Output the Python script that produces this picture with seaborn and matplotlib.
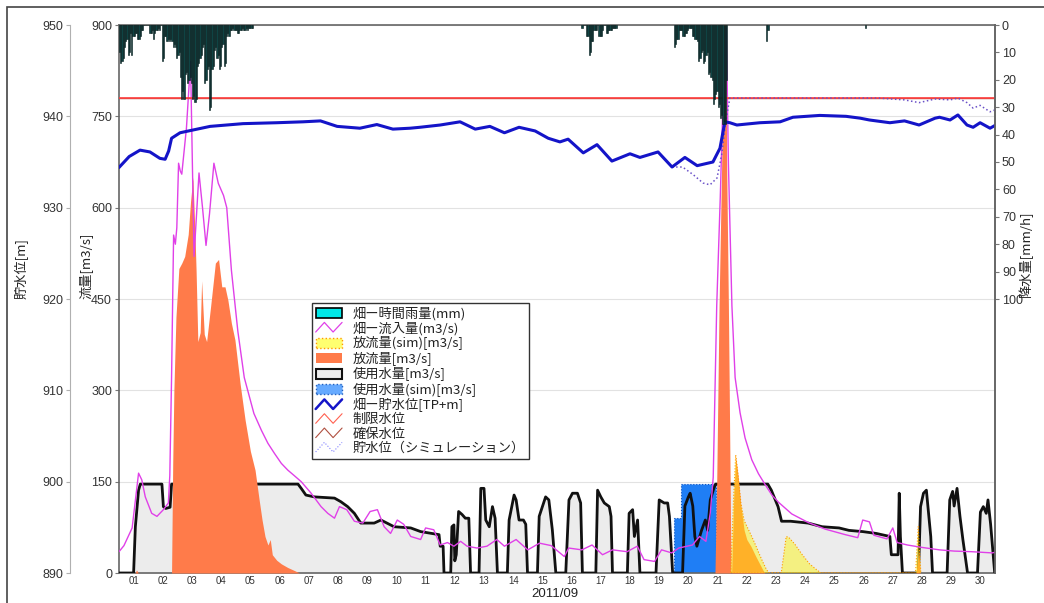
import numpy as np
import matplotlib
matplotlib.use("Agg")
import matplotlib.pyplot as plt
import seaborn as sns
from matplotlib import font_manager
from matplotlib.patches import Patch, Rectangle
from matplotlib.lines import Line2D
from matplotlib.legend_handler import HandlerBase
from matplotlib.font_manager import FontProperties

# ---- data (x in days from 2011/09/01 00:00) ----
day_labels = ["%02d" % d for d in range(1, 31)]

# hourly rainfall [mm/h], one list per rainy spell, with the hour it starts at
rain1_start = 0
rain1_mm = [10, 14, 13, 12, 8, 6, 5, 11, 10, 3, 11, 4, 4, 3, 3, 5, 5, 4, 2, 2,
            0, 0, 0, 0, 0, 3, 3, 2, 5, 3, 2, 2, 1, 2, 0, 13, 12, 4, 4, 6,
            5, 6, 5, 6, 8, 7, 8, 12, 11, 10, 19, 27, 24, 27, 18, 17, 21, 20, 19, 21,
            27, 26, 28, 27, 15, 14, 12, 11, 8, 7, 21, 20, 16, 15, 31, 30, 16, 15, 9, 8,
            12, 11, 16, 15, 8, 7, 15, 14, 4, 3, 4, 2, 2, 1, 2, 2, 2, 3, 3, 2,
            2, 1, 2, 2, 1, 2, 1, 1, 1, 1]
rain2_start = 380
rain2_mm = [1, 0, 0, 0, 4, 4, 11, 10, 6, 6, 2, 2, 2, 0, 4, 4, 4, 2, 0, 0,
            3, 3, 2, 2, 2, 1, 1, 1, 1]
rain3_start = 456
rain3_mm = [8, 7, 5, 5, 2, 2, 2, 4, 4, 3, 3, 2, 1, 1, 1, 4, 4, 5, 5, 6,
            13, 12, 10, 9, 14, 13, 11, 10, 18, 17, 19, 20, 29, 27, 25, 24, 30, 29, 34, 33,
            36, 35, 36, 20]
rain4_start = 532
rain4_mm = [6, 2]
rain5_start = 613
rain5_mm = [1]

# inflow [m3/s]
inflow_day = [0.0, 0.17, 0.45, 0.67, 0.78, 0.9, 1.12, 1.3, 1.52, 1.69, 1.74, 1.8, 1.87, 1.93,
              1.98, 2.04, 2.1, 2.15, 2.31, 2.45, 2.57, 2.74, 2.86, 2.98, 3.1, 3.25, 3.4, 3.58,
              3.69, 3.85, 4.07, 4.29, 4.62, 4.88, 5.1, 5.33, 5.56, 5.78, 6.0, 6.24, 6.58, 6.92,
              7.15, 7.38, 7.55, 7.8, 8.06, 8.35, 8.6, 8.85, 9.08, 9.3, 9.53, 9.75, 9.99, 10.33,
              10.5, 10.78, 11.0, 11.25, 11.47, 11.7, 11.92, 12.26, 12.6, 12.94, 13.2, 13.6, 14.0,
              14.4, 14.8, 15.25, 15.4, 15.85, 16.2, 16.56, 16.9, 17.4, 17.75, 17.98, 18.34, 18.58,
              18.93, 19.17, 19.64, 19.88, 20.1, 20.25, 20.35, 20.47, 20.59, 20.7, 20.8, 20.87,
              20.99, 21.1, 21.27, 21.44, 21.67, 21.9, 22.13, 22.36, 22.59, 23.04, 23.6, 24.19,
              24.87, 25.3, 25.47, 25.7, 25.85, 26.3, 26.5, 26.65, 27.0, 27.5, 28.1, 28.6, 29.2,
              29.9, 30.0]
inflow_m3s = [35, 45, 74, 164, 153, 125, 98, 93, 104, 115, 160, 321, 555, 540,
              567, 673, 660, 655, 731, 840, 520, 657, 600, 538, 590, 673, 640, 620,
              600, 497, 397, 321, 262, 234, 213, 196, 180, 169, 160, 150, 131, 109,
              98, 90, 109, 104, 85, 82, 101, 104, 76, 65, 87, 80, 60, 55,
              74, 71, 46, 50, 44, 52, 44, 41, 44, 55, 44, 55, 38,
              49, 45, 27, 41, 38, 46, 30, 38, 35, 44, 22, 19, 38,
              33, 41, 46, 60, 52, 99, 157, 439, 615, 800, 895, 673,
              439, 321, 263, 222, 186, 163, 145, 128, 116, 97, 83, 72,
              63, 58, 87, 84, 62, 56, 74, 50, 46, 42, 38, 36, 35,
              33, 34]

# release [m3/s]
release_day = [0.0, 0.55, 0.6, 0.66, 1.8, 1.84, 1.88, 1.95, 2.05, 2.15, 2.25, 2.37, 2.45, 2.53,
               2.6, 2.64, 2.7, 2.78, 2.83, 2.88, 2.92, 3.0, 3.14, 3.3, 3.41, 3.52, 3.63, 3.73,
               3.85, 3.97, 4.15, 4.32, 4.5, 4.66, 4.8, 4.9, 5.0, 5.1, 5.18, 5.25, 5.4, 5.56,
               5.78, 6.01, 6.18, 20.41, 20.47, 20.55, 20.64, 20.72, 20.78, 20.81, 20.87, 20.93,
               20.96, 20.98, 21.05, 21.12, 21.2, 21.3, 21.41, 21.5, 21.64, 21.8, 21.93, 22.05,
               22.12, 27.3, 27.38, 27.44, 30.0]
release_m3s = [0, 0, 5, 0, 0, 180, 300, 420, 500, 509, 520, 556, 610, 650,
               560, 497, 380, 395, 480, 430, 392, 380, 439, 509, 515, 470, 470, 448,
               410, 383, 310, 251, 200, 169, 120, 87, 60, 46, 55, 30, 21, 15,
               9, 4, 0, 0, 150, 439, 673, 960, 960, 673, 439, 150,
               0, 0, 120, 191, 160, 109, 70, 55, 44, 28, 16, 5,
               0, 0, 40, 0, 0]

# simulated release [m3/s]
sim_release_day = [20.95, 21.05, 21.12, 21.2, 21.3, 21.41, 21.5, 21.64, 21.8, 21.93, 22.05,
                   22.15, 22.25, 22.68, 22.85, 22.95, 23.15, 23.4, 23.65, 23.9, 24.05, 27.28,
                   27.37, 27.46]
sim_release_m3s = [0, 125, 194, 162, 114, 86, 77, 63, 46, 31, 18,
                   8, 0, 0, 60, 58, 47, 30, 15, 5, 0, 0,
                   76, 0]

# water use [m3/s]
use_day = [0.0, 0.5, 0.56, 0.67, 0.73, 1.47, 1.52, 1.6, 1.75, 1.8, 6.13, 6.24, 6.4, 6.69,
           7.38, 7.6, 7.83, 8.06, 8.28, 8.74, 8.97, 9.42, 9.99, 10.33, 10.96, 11.0, 11.1, 11.13,
           11.36, 11.4, 11.47, 11.5, 11.55, 11.63, 11.75, 11.86, 11.98, 12.04, 12.33, 12.39,
           12.5, 12.56, 12.68, 12.79, 12.88, 12.96, 13.3, 13.36, 13.53, 13.6, 13.7, 13.85,
           13.93, 13.99, 14.33, 14.39, 14.5, 14.61, 14.72, 14.84, 14.96, 15.3, 15.41, 15.53,
           15.7, 15.81, 15.87, 16.33, 16.39, 16.5, 16.62, 16.79, 16.85, 16.9, 17.41, 17.47,
           17.59, 17.65, 17.76, 17.84, 18.39, 18.5, 18.67, 18.79, 18.85, 18.96, 19.3, 19.38,
           19.5, 19.56, 19.65, 19.72, 19.79, 19.95, 20.08, 20.16, 20.25, 20.37, 20.43, 22.22,
           22.34, 22.57, 22.69, 23.0, 23.6, 24.08, 24.66, 25.0, 25.47, 25.93, 26.4, 26.45,
           26.68, 26.72, 26.76, 26.83, 27.38, 27.45, 27.55, 27.65, 27.72, 27.8, 27.86, 28.36,
           28.45, 28.55, 28.6, 28.7, 28.8, 28.9, 29.06, 29.4, 29.5, 29.6, 29.7, 29.76,
           29.85, 29.99, 30.0]
use_m3s = [0, 0, 76, 136, 146, 146, 109, 106, 108, 146, 146, 139, 128, 125,
           123, 117, 109, 98, 82, 82, 87, 76, 74, 68, 63, 44, 44, 0,
           0, 76, 79, 20, 30, 101, 96, 90, 90, 0, 0, 139,
           139, 87, 76, 109, 90, 0, 0, 87, 128, 120, 87, 87,
           80, 0, 0, 93, 109, 125, 120, 71, 0, 0, 120, 131,
           131, 115, 0, 0, 136, 125, 115, 109, 93, 0, 0, 98,
           104, 60, 87, 0, 0, 120, 115, 115, 93, 0, 0, 110,
           125, 131, 110, 60, 44, 70, 87, 70, 120, 139, 146, 146,
           136, 109, 85, 85, 82, 76, 74, 70, 68, 65, 60, 30,
           30, 131, 60, 0, 0, 109, 131, 136, 100, 60, 0, 0,
           120, 134, 110, 139, 93, 55, 0, 0, 100, 109, 98, 120,
           80, 0, 0]

# simulated water use [m3/s]
sim_use_day = [19.0, 19.0, 19.25, 19.25, 20.45, 20.45]
sim_use_m3s = [0, 90, 90, 146, 146, 0]

# reservoir level [TP+m]
level_day = [0.0, 0.35, 0.72, 1.06, 1.4, 1.58, 1.7, 1.8, 2.09, 2.53, 3.12, 4.25, 5.4, 6.3,
             6.9, 7.47, 8.25, 8.83, 9.38, 9.97, 10.3, 11.0, 11.68, 12.2, 12.7, 13.2, 13.7,
             14.25, 14.7, 15.1, 15.38, 15.9, 16.37, 16.88, 17.5, 17.84, 18.46, 18.94, 19.38,
             19.8, 20.34, 20.58, 20.75, 20.92, 21.16, 21.95, 22.64, 23.08, 24.0, 24.9, 25.38,
             25.7, 26.4, 26.9, 27.4, 27.95, 28.1, 28.46, 28.73, 29.04, 29.25, 29.49, 29.83, 30.0]
level_m = [934.4, 935.6, 936.3, 936.1, 935.4, 935.3, 936.2, 937.6, 938.2, 938.5, 938.9, 939.2,
           939.3, 939.4, 939.5, 938.9, 938.7, 939.1, 938.6, 938.7, 938.8, 939.05, 939.4, 938.6,
           938.9, 938.2, 938.8, 938.4, 937.6, 937.2, 937.5, 936.0, 936.9, 935.1, 935.9, 935.5,
           936.1, 934.45, 935.5, 934.6, 935.0, 936.5, 939.4, 939.3, 939.05, 939.3, 939.4, 939.9,
           940.1, 940.0, 939.8, 939.6, 939.3, 939.5, 939.05, 939.8, 939.9, 939.6, 940.15,
           939.05, 938.8, 939.3, 938.7, 939.0]

# simulated level [TP+m]
sim_level_day = [18.94, 19.3, 19.67, 20.0, 20.24, 20.48, 20.64, 20.78, 20.92, 26.0, 26.9,
                 27.4, 27.95, 28.46, 28.73, 29.04, 29.25, 29.49, 29.83, 30.0]
sim_level_m = [934.45, 934.45, 933.6, 932.7, 932.5, 933.25, 935.8, 939.5, 942.0, 942.0, 941.8,
               941.5, 941.9, 941.8, 942.0, 941.5, 940.9, 941.2, 940.5, 940.7]

seigen_level = 942.0   # 制限水位
kakuho_level = 942.0   # 確保水位 (hidden under the red line)

flow_ticks = [0, 150, 300, 450, 600, 750, 900]
level_ticks = [890, 900, 910, 920, 930, 940, 950]
rain_ticks = [0, 10, 20, 30, 40, 50, 60, 70, 80, 90, 100]

# ---- style ----
sns.set_style("white")
names = {f.name for f in font_manager.fontManager.ttflist}
num_font = "Liberation Sans" if "Liberation Sans" in names else "DejaVu Sans"
plt.rcParams["font.family"] = [num_font, "Noto Sans CJK JP", "DejaVu Sans"]
jp = ["Noto Sans CJK JP", "DejaVu Sans"]
tick_col = "#333333"

W, H = 1044, 603
px = 72 / 100  # points per pixel
fig = plt.figure(figsize=(W / 100, H / 100), dpi=100)
ax = fig.add_axes([119 / W, 30 / H, 876 / W, 548 / H])

# flow axis content
ax.fill_between(use_day, 0, use_m3s, color="#ececec", lw=0, zorder=1)
ax.fill_between(sim_use_day, 0, sim_use_m3s, facecolor="#1f7ef5", edgecolor="#0a50c0",
                linestyle=":", lw=0.8, zorder=2)
sns.lineplot(x=use_day, y=use_m3s, ax=ax, color="#111111", lw=2, estimator=None,
             sort=False, legend=False, zorder=3)
ax.fill_between(release_day, 0, release_m3s, color="#ff7b4a", lw=0, zorder=4)
ax.fill_between(sim_release_day, 0, sim_release_m3s, facecolor=(1, 0.96, 0, 0.45),
                edgecolor="#ff9900", linestyle=":", lw=0.8, zorder=5)
sns.lineplot(x=inflow_day, y=inflow_m3s, ax=ax, color="#e040e8", lw=1, estimator=None,
             sort=False, legend=False, zorder=6)

ax.set_xlim(0, len(day_labels))
ax.set_ylim(flow_ticks[0], flow_ticks[-1])
ax.set_yticks(flow_ticks)
ax.set_xticks(np.arange(len(day_labels) + 1))
ax.set_xticklabels([])
ax.set_xticks(np.arange(len(day_labels)) + 0.5, minor=True)
ax.set_xticklabels(day_labels, minor=True, fontsize=7, color=tick_col)
ax.tick_params(axis="x", which="major", length=3, color="#777777", direction="out")
ax.tick_params(axis="x", which="minor", length=0, pad=2)
ax.tick_params(axis="y", length=3, color="#777777", labelsize=9, labelcolor=tick_col, pad=2)
ax.yaxis.grid(True, color="#e2e2e2", lw=0.8)
ax.set_xlabel("")
ax.set_ylabel("")
for s in ax.spines.values():
    s.set_color("#666666")
    s.set_linewidth(1.2)

# level axis on the far left
ax_level = ax.twinx()
ax_level.axhline(kakuho_level, color="#b05040", lw=1, zorder=1)
ax_level.axhline(seigen_level, color="#ff4040", lw=1.2, zorder=2)
sns.lineplot(x=sim_level_day, y=sim_level_m, ax=ax_level, color="#6a50c8", lw=1.1,
             linestyle=":", estimator=None, sort=False, legend=False, zorder=3)
sns.lineplot(x=level_day, y=level_m, ax=ax_level, color="#1414c8", lw=2.2,
             estimator=None, sort=False, legend=False, zorder=4)
ax_level.set_ylim(level_ticks[0], level_ticks[-1])
ax_level.set_yticks(level_ticks)
ax_level.yaxis.tick_left()
ax_level.spines["left"].set_visible(True)
ax_level.spines["left"].set_position(("outward", 49 * px))
ax_level.spines["left"].set_color("#b0b0b0")
for k in ["right", "top", "bottom"]:
    ax_level.spines[k].set_visible(False)
ax_level.tick_params(axis="y", length=3, color="#b0b0b0", labelsize=9,
                     labelcolor=tick_col, pad=2)
ax_level.set_ylabel("")
ax_level.set_xlabel("")

# rainfall axis on the right (hanging bars)
ax_rain = ax.twinx()
for start, vals in [(rain1_start, rain1_mm), (rain2_start, rain2_mm), (rain3_start, rain3_mm),
                    (rain4_start, rain4_mm), (rain5_start, rain5_mm)]:
    hrs = (start + np.arange(len(vals)) + 0.5) / 24
    ax_rain.bar(hrs, vals, width=1 / 24, color="#0f4444", edgecolor="#041a1a", lw=0.4)
ax_rain.set_ylim(200, 0)
ax_rain.set_yticks(rain_ticks)
ax_rain.tick_params(axis="y", length=3, color="#777777", labelsize=9,
                    labelcolor=tick_col, pad=2)
for k in ["left", "top", "bottom"]:
    ax_rain.spines[k].set_visible(False)
ax_rain.spines["right"].set_color("#666666")
ax_rain.spines["right"].set_linewidth(1.2)
ax_rain.set_xlim(0, len(day_labels))

# axis titles
fig.text(22 / W, 1 - 269 / H, "貯水位[m]", rotation=90, ha="center", va="center",
         family=jp, fontsize=9.5, color="#222222")
fig.text(86 / W, 1 - 266 / H, "流量[m3/s]", rotation=90, ha="center", va="center",
         family=jp, fontsize=9.5, color="#222222")
fig.text(1026 / W, 1 - 254 / H, "降水量[mm/h]", rotation=90, ha="center", va="center",
         family=jp, fontsize=9.5, color="#222222")
fig.text(555 / W, 1 - 594 / H, "2011/09", ha="center", va="center", fontsize=9.5,
         color="#222222")

# legend with zigzag line icons
class Zigzag(HandlerBase):
    def create_artists(self, legend, orig, xd, yd, w, h, fontsize, trans):
        xs = np.array([0, 0.33, 0.66, 1.0]) * w - xd
        ys = np.array([0.05, 1.0, 0.05, 1.0]) * h - yd
        ln = Line2D(xs, ys, color=orig.get_color(), lw=orig.get_linewidth(),
                    linestyle=orig.get_linestyle())
        ln.set_transform(trans)
        return [ln]

handles = [
    Patch(facecolor="#00e8e8", edgecolor="#000000", lw=1.2),
    Line2D([], [], color="#e040e8", lw=0.9),
    Patch(facecolor="#ffff70", edgecolor="#ff9900", ls=":", lw=1),
    Patch(facecolor="#ff7b4a", edgecolor="none"),
    Patch(facecolor="#ececec", edgecolor="#111111", lw=1.5),
    Patch(facecolor="#66aaff", edgecolor="#2060c0", ls=":", lw=1),
    Line2D([], [], color="#1414c8", lw=1.8),
    Line2D([], [], color="#ff6050", lw=0.8),
    Line2D([], [], color="#b05040", lw=0.8),
    Line2D([], [], color="#8080ff", lw=0.8, ls=":"),
]
labels = ["畑ー時間雨量(mm)", "畑ー流入量(m3/s)", "放流量(sim)[m3/s]", "放流量[m3/s]",
          "使用水量[m3/s]", "使用水量(sim)[m3/s]", "畑ー貯水位[TP+m]", "制限水位",
          "確保水位", "貯水位（シミュレーション）"]
leg = ax_rain.legend(handles, labels, handler_map={Line2D: Zigzag()},
                     loc="upper left", bbox_to_anchor=(0.220, 0.493), borderaxespad=0,
                     prop=FontProperties(family=jp, size=9.5), frameon=True,
                     fancybox=False, framealpha=1, edgecolor="#333333", borderpad=0.3,
                     handlelength=2.0, handleheight=0.8, labelspacing=0.1,
                     handletextpad=0.8)
leg.get_frame().set_linewidth(1.0)
for t in leg.get_texts():
    t.set_color("#222222")

# outer frame
fig.add_artist(Rectangle((7 / W, -0.05), 1.2, 1 - 7 / H + 0.05, transform=fig.transFigure,
                         fill=False, edgecolor="#444444", lw=1.2))

fig.savefig("out.png", dpi=100)
